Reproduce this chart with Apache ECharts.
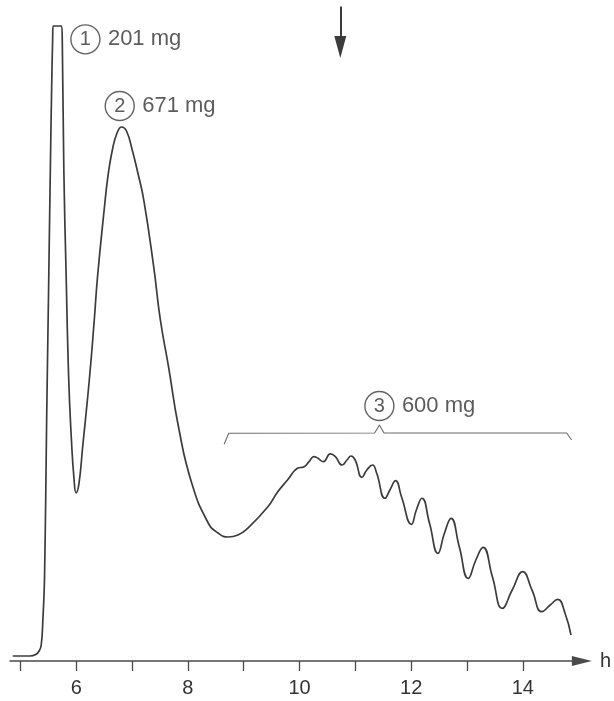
<!DOCTYPE html>
<html>
<head>
<meta charset="utf-8">
<script src="https://cdn.jsdelivr.net/npm/echarts@6/dist/echarts.min.js"></script>
<style>
  html, body { margin: 0; padding: 0; background: #ffffff; }
  #chart { width: 614px; height: 701px; }
</style>
</head>
<body>
<div id="chart"></div>
<script>
// Elution time (h) and detector response (arbitrary units, 0-100)
const timeH = [4.862, 5.169, 5.275, 5.334, 5.373, 5.405, 5.426, 5.435, 5.453, 5.470, 5.502, 5.536, 5.559, 5.577, 5.586,
  5.737, 5.751, 5.778, 5.817, 5.866, 5.914, 5.959, 5.998, 6.048, 6.115, 6.234, 6.323, 6.381, 6.500, 6.571, 6.647,
  6.731, 6.814, 6.900, 7.003, 7.104, 7.210, 7.388, 7.507, 7.654, 7.832, 8.068, 8.364, 8.541, 8.719, 8.896, 9.074,
  9.429, 9.607, 9.784, 9.962, 10.081, 10.170, 10.258, 10.330, 10.424, 10.553, 10.642, 10.761, 10.850, 10.921, 10.997,
  11.116, 11.205, 11.306, 11.382, 11.530, 11.618, 11.720, 11.826, 12.004, 12.092, 12.193, 12.328, 12.478, 12.595,
  12.714, 12.861, 13.021, 13.158, 13.287, 13.454, 13.632, 13.809, 13.997, 14.164, 14.341, 14.489, 14.626, 14.755, 14.862];
const response = [0.76, 0.76, 0.98, 1.51, 2.42, 6.66, 10.74, 14.22, 24.36, 36.46, 54.6, 74.28, 86.39, 93.95, 96.07,
  96.07, 93.19, 74.28, 59.15, 42.51, 33.44, 27.69, 25.42, 26.78, 32.38, 42.51, 51.59, 58.09, 68.23, 73.53, 77.31,
  79.88, 80.79, 80.18, 77.31, 73.83, 69.74, 59.61, 51.59, 44.48, 35.40, 26.93, 20.88, 19.36, 18.76, 19.06, 20.12,
  23.30, 25.57, 27.38, 29.15, 29.40, 30.15, 30.91, 30.67, 30.15, 31.32, 30.91, 29.65, 30.41, 31.01, 30.41,
  27.79, 28.90, 29.65, 28.40, 24.62, 25.87, 27.28, 24.86, 20.68, 22.84, 24.62, 20.83, 16.29, 19.32,
  21.59, 17.29, 12.51, 15.28, 17.20, 12.75, 7.97, 10.74, 13.51, 10.74, 7.46, 8.47, 9.33, 7.22, 3.93];

// Axis ticks and labels
const tickValues = [5, 6, 7, 8, 9, 10, 11, 12, 13, 14];
const tickLabels = [6, 8, 10, 12, 14];

// Peak annotations
const annoNums = ['1', '2', '3'];
const annoTexts = ['201 mg', '671 mg', '600 mg'];
const annoX = [6.164, 6.779, 11.430];
const annoY = [94.05, 83.96, 38.58];

// Bracket over fraction 3
const bracketX = [8.649, 8.732, 11.346, 11.430, 11.513, 14.785, 14.874];
const bracketY = [32.78, 34.45, 34.49, 35.70, 34.49, 34.49, 33.43];

// Marker arrow at top (start, arrow-head centre)
const markerX = 10.73;
const markerY = [99.0, 92.9];

const FONT = '"Liberation Sans", Arial, Helvetica, sans-serif';
const INK = '#333333';

const chart = echarts.init(document.getElementById('chart'), null, { renderer: 'canvas' });

const curve = timeH.map((t, i) => [t, response[i]]);
const bracket = bracketX.map((t, i) => [t, bracketY[i]]);
const annoPts = annoX.map((t, i) => ({ value: [t, annoY[i]], num: annoNums[i], text: annoTexts[i] }));

chart.setOption({
  animation: false,
  backgroundColor: '#ffffff',
  grid: { left: 10, right: 27, top: 0, bottom: 40 },
  xAxis: {
    type: 'value',
    min: 4.8136,
    max: 15.057,
    splitLine: { show: false },
    axisLine: {
      show: true,
      onZero: false,
      symbol: ['none', 'triangle'],
      symbolSize: [10, 20],
      lineStyle: { color: '#4a4a4a', width: 1.5 }
    },
    axisTick: {
      show: true,
      customValues: tickValues,
      length: 10,
      lineStyle: { color: '#4a4a4a', width: 1.3 }
    },
    axisLabel: {
      show: true,
      customValues: tickLabels,
      margin: 17,
      fontSize: 20,
      fontFamily: FONT,
      color: INK
    },
    name: 'h',
    nameLocation: 'end',
    nameGap: 18,
    nameTextStyle: { fontSize: 20, fontFamily: FONT, color: INK, verticalAlign: 'middle' }
  },
  yAxis: {
    type: 'value',
    min: 0,
    max: 100,
    show: false
  },
  series: [
    {
      type: 'line',
      data: curve,
      smooth: 0.5,
      showSymbol: false,
      symbol: 'none',
      lineStyle: { color: '#3c3c3c', width: 1.7 },
      z: 3
    },
    {
      type: 'line',
      data: bracket,
      showSymbol: false,
      symbol: 'none',
      lineStyle: { color: '#6a6a6a', width: 1.1 },
      z: 2
    },
    {
      type: 'line',
      data: [],
      markLine: {
        silent: true,
        symbol: ['none', 'triangle'],
        symbolSize: [12, 22],
        lineStyle: { color: '#3c3c3c', width: 2, type: 'solid' },
        label: { show: false },
        data: [[{ coord: [markerX, markerY[0]] }, { coord: [markerX, markerY[1]] }]]
      }
    },
    {
      type: 'scatter',
      data: annoPts,
      symbol: 'circle',
      symbolSize: 29,
      itemStyle: { color: '#ffffff', borderColor: '#3c3c3c', borderWidth: 1.4 },
      label: {
        show: true,
        position: 'inside',
        formatter: p => p.data.num,
        fontSize: 20,
        fontFamily: FONT,
        color: INK
      },
      z: 4
    },
    {
      type: 'scatter',
      data: annoPts,
      symbol: 'circle',
      symbolSize: 29,
      itemStyle: { color: 'transparent', borderWidth: 0 },
      label: {
        show: true,
        position: 'right',
        distance: 8,
        formatter: p => p.data.text,
        fontSize: 22,
        fontFamily: FONT,
        color: INK
      },
      z: 4
    }
  ]
});
</script>
</body>
</html>
